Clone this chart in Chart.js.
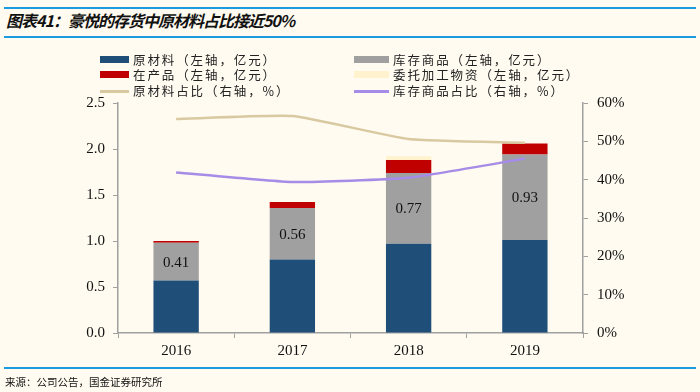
<!DOCTYPE html>
<html><head><meta charset="utf-8">
<script src="https://cdn.jsdelivr.net/npm/chart.js@4"></script>
<style>
html,body{margin:0;padding:0;background:#FFFBF0;width:700px;height:392px;overflow:hidden;}
#wrap{position:relative;width:700px;height:392px;}
canvas{position:absolute;left:0;top:0;}
.rule{position:absolute;left:4px;width:692px;height:2px;background:#1E9BE0;}
#title{position:absolute;left:6px;top:10px;font-family:"Noto Sans CJK SC",sans-serif;font-style:italic;font-weight:bold;font-size:16px;letter-spacing:-1px;color:#111;line-height:20px;}
#src{position:absolute;left:5px;top:374px;font-family:"Noto Sans CJK SC",sans-serif;font-size:10.5px;color:#111;line-height:16px;}
.lg{position:absolute;font-family:"Noto Sans CJK SC",sans-serif;font-size:12.5px;letter-spacing:1.9px;color:#222;line-height:16px;white-space:nowrap;}
.sw{position:absolute;}
</style></head>
<body><div id="wrap">
<div class="rule" style="top:7px"></div>
<div id="title">图表41：豪悦的存货中原材料占比接近50%</div>
<div class="rule" style="top:36px"></div>
<canvas id="c" width="700" height="392"></canvas>
<div class="rule" style="top:367px"></div>
<div id="src">来源：公司公告，国金证券研究所</div>
<div id="legend"></div>
</div>
<script>
const categories = ['2016','2017','2018','2019'];
const rawMaterial = [0.57, 0.80, 0.97, 1.01];
const finishedGoods = [0.41, 0.56, 0.77, 0.93];
const wip = [0.02, 0.065, 0.14, 0.12];
const consigned = [0.0, 0.0, 0.04, 0.0];
const rawShare = [55.8, 56.6, 50.6, 49.6];
const goodsShare = [41.9, 39.4, 40.5, 45.5];
const leftTicks = [0, 0.5, 1.0, 1.5, 2.0, 2.5];
const rightTicks = [0, 10, 20, 30, 40, 50, 60];
const names = ['原材料（左轴，亿元）','库存商品（左轴，亿元）','在产品（左轴，亿元）','委托加工物资（左轴，亿元）','原材料占比（右轴，%）','库存商品占比（右轴，%）'];

const colors = ['#1F4E79','#A0A0A0','#C00000','#FFF2CC','#D9C9A0','#A68CE6'];

// legend
const lg = document.getElementById('legend');
const rowsY = [52, 67, 83];
names.forEach((n,i)=>{
  const col = i%2, row = Math.floor(i/2);
  const sx = col===0 ? 100 : 354, tx = col===0 ? 133 : 393;
  const isLine = i>=4;
  const sw = document.createElement('div');
  sw.className='sw';
  sw.style.left = sx+'px';
  sw.style.width = (col===0?29:35)+'px';
  sw.style.top = (rowsY[row] + (isLine?7:4))+'px';
  sw.style.height = (isLine?3:7)+'px';
  sw.style.background = colors[i];
  lg.appendChild(sw);
  const t = document.createElement('div');
  t.className='lg';
  t.style.left = tx+'px';
  t.style.top = rowsY[row]+'px';
  t.textContent = n;
  lg.appendChild(t);
});

const labelPlugin = {
  id:'grayLabels',
  afterDatasetsDraw(chart){
    const meta = chart.getDatasetMeta(1);
    const ctx = chart.ctx;
    ctx.save();
    ctx.font = '15px "Liberation Serif", serif';
    ctx.fillStyle = '#111';
    ctx.textAlign='center';
    ctx.textBaseline='middle';
    meta.data.forEach((bar,i)=>{
      const y = (bar.y + bar.base)/2;
      ctx.fillText(finishedGoods[i].toFixed(2), bar.x, y+1);
    });
    ctx.restore();
  }
};

const tickFont = {family:'"Liberation Serif", serif', size:15};
new Chart(document.getElementById('c'), {
  data:{
    labels:categories,
    datasets:[
      {type:'bar', label:names[0], data:rawMaterial, backgroundColor:colors[0], yAxisID:'y', stack:'s', order:2, barPercentage:0.78, categoryPercentage:0.5},
      {type:'bar', label:names[1], data:finishedGoods, backgroundColor:colors[1], yAxisID:'y', stack:'s', order:2, barPercentage:0.78, categoryPercentage:0.5},
      {type:'bar', label:names[2], data:wip, backgroundColor:colors[2], yAxisID:'y', stack:'s', order:2, barPercentage:0.78, categoryPercentage:0.5},
      {type:'bar', label:names[3], data:consigned, backgroundColor:colors[3], yAxisID:'y', stack:'s', order:2, barPercentage:0.78, categoryPercentage:0.5},
      {type:'line', label:names[4], data:rawShare, borderColor:colors[4], borderWidth:2.5, pointRadius:0, tension:0.15, yAxisID:'y1', order:0},
      {type:'line', label:names[5], data:goodsShare, borderColor:colors[5], borderWidth:2.5, pointRadius:0, tension:0.15, yAxisID:'y1', order:0}
    ]
  },
  options:{
    responsive:false, animation:false,
    layout:{padding:{left:0,right:0,top:103,bottom:29}},
    plugins:{legend:{display:false}, tooltip:{enabled:false}},
    scales:{
      x:{stacked:true, offset:true,
        grid:{display:true, offset:true, drawOnChartArea:false, drawTicks:true, tickLength:5, color:'#A0A0A0'},
        border:{display:true, color:'#A0A0A0', width:1.5},
        ticks:{font:tickFont, color:'#111', padding:4},
        afterFit(s){s.height=30;}
      },
      y:{stacked:true, position:'left', min:0, max:2.5,
        afterBuildTicks(s){s.ticks = leftTicks.map(v=>({value:v}));},
        grid:{drawOnChartArea:false, drawTicks:true, tickLength:5, color:'#A0A0A0'},
        border:{display:true, color:'#A0A0A0', width:1.5},
        ticks:{font:tickFont, color:'#111', padding:8, callback:v=>v.toFixed(1)},
        afterFit(s){s.width=118;}
      },
      y1:{position:'right', min:0, max:60,
        afterBuildTicks(s){s.ticks = rightTicks.map(v=>({value:v}));},
        grid:{drawOnChartArea:false, drawTicks:true, tickLength:5, color:'#A0A0A0'},
        border:{display:true, color:'#A0A0A0', width:1.5},
        ticks:{font:tickFont, color:'#111', padding:9, callback:v=>v+'%'},
        afterFit(s){s.width=117;}
      }
    }
  },
  plugins:[labelPlugin]
});
</script>
</body></html>
